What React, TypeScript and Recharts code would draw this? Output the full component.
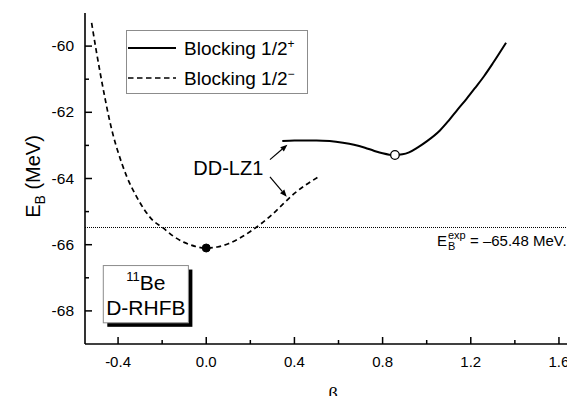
import React from 'react';
import {
  LineChart,
  Line,
  XAxis,
  YAxis,
  ReferenceLine,
  ReferenceDot,
  ReferenceArea,
  Legend,
} from 'recharts';

// Binding energy of 11Be versus quadrupole deformation beta (D-RHFB, DD-LZ1)

// Blocking 1/2- configuration
const betaMinus = [
  -0.52, -0.5, -0.48, -0.46, -0.44, -0.42, -0.4, -0.36, -0.32, -0.28, -0.24, -0.2, -0.15,
  -0.1, -0.05, 0.0, 0.05, 0.1, 0.15, 0.2, 0.25, 0.3, 0.35, 0.4, 0.45, 0.51,
];
const energyMinus = [
  -59.3, -60.1, -60.85, -61.55, -62.2, -62.75, -63.2, -63.95, -64.5, -64.95, -65.28, -65.47,
  -65.74, -65.93, -66.05, -66.1, -66.07, -65.97, -65.81, -65.6, -65.36, -65.08, -64.76,
  -64.45, -64.2, -63.95,
];

// Blocking 1/2+ configuration
const betaPlus = [
  0.345, 0.4, 0.45, 0.5, 0.56, 0.62, 0.67, 0.72, 0.76, 0.8, 0.83, 0.856, 0.89, 0.92, 0.96,
  1.0, 1.06, 1.1, 1.14, 1.18, 1.22, 1.26, 1.3, 1.36,
];
const energyPlus = [
  -62.87, -62.85, -62.85, -62.85, -62.87, -62.92, -62.98, -63.07, -63.16, -63.24, -63.28,
  -63.29, -63.27, -63.21, -63.06, -62.88, -62.55, -62.25, -61.92, -61.6, -61.26, -60.91,
  -60.52, -59.9,
];

const seriesBase = ['Blocking 1/2', 'Blocking 1/2'];
const seriesParity = ['+', '\u2212'];

// ground-state minima of each configuration
const minMinus = { beta: 0.0, energy: -66.1 };
const minPlus = { beta: 0.856, energy: -63.29 };

// experimental binding energy
const expEnergy = -65.48;

// axes
const xDomain: [number, number] = [-0.55, 1.7];
const yDomain: [number, number] = [-69, -59];
const xTicks = [-0.4, -0.2, 0.0, 0.2, 0.4, 0.6, 0.8, 1.0, 1.2, 1.4, 1.6];
const xTickLabels = ['-0.4', '', '0.0', '', '0.4', '', '0.8', '', '1.2', '', '1.6'];
const yTicks = [-68, -67, -66, -65, -64, -63, -62, -61, -60];
const yTickLabels = ['-68', '', '-66', '', '-64', '', '-62', '', '-60'];

// annotation anchors (data coordinates)
const modelName = 'DD-LZ1';
const modelLabelAt = { beta: 0.1, energy: -63.9 };
const arrowUp = [{ x: 0.289, y: -63.43 }, { x: 0.368, y: -62.98 }];
const arrowDown = [{ x: 0.289, y: -63.95 }, { x: 0.365, y: -64.55 }];
const nucleusBox = { x1: -0.467, x2: -0.081, y1: -68.36, y2: -66.63 };

const minusData = betaMinus.map((b, i) => ({ beta: b, energy: energyMinus[i] }));
const plusData = betaPlus.map((b, i) => ({ beta: b, energy: energyPlus[i] }));

const FONT = '"Liberation Sans", Arial, Helvetica, sans-serif';
const MAJOR = 7;
const MINOR = 4;

const findIdx = (arr: number[], v: number) => arr.findIndex((t) => Math.abs(t - v) < 1e-9);

const makeXTick = (side: 'bottom' | 'top') => (props: any) => {
  const { x, y, payload } = props;
  const idx = findIdx(xTicks, payload.value);
  const label = idx >= 0 ? xTickLabels[idx] : '';
  const len = label ? MAJOR : MINOR;
  const dir = side === 'bottom' ? -1 : 1;
  return (
    <g>
      <line x1={x} y1={y} x2={x} y2={y + dir * len} stroke="#000" strokeWidth={1.5} />
      {side === 'bottom' && label ? (
        <text x={x} y={y + 23} textAnchor="middle" fontSize={15} fontFamily={FONT} fill="#000">
          {label}
        </text>
      ) : null}
    </g>
  );
};

const makeYTick = (side: 'left' | 'right') => (props: any) => {
  const { x, y, payload } = props;
  const idx = findIdx(yTicks, payload.value);
  const label = idx >= 0 ? yTickLabels[idx] : '';
  const len = label ? MAJOR : MINOR;
  const dir = side === 'left' ? 1 : -1;
  return (
    <g>
      <line x1={x} y1={y} x2={x + dir * len} y2={y} stroke="#000" strokeWidth={1.5} />
      {side === 'left' && label ? (
        <text x={x - 11} y={y + 5} textAnchor="end" fontSize={15.5} fontFamily={FONT} fill="#000">
          {label}
        </text>
      ) : null}
    </g>
  );
};

const renderYLabel = (props: any) => {
  const vb = props.viewBox;
  const bx = vb.x + 40;
  const cy = vb.y + vb.height / 2 - 2;
  return (
    <text
      x={bx}
      y={cy}
      transform={`rotate(-90, ${bx}, ${cy})`}
      textAnchor="middle"
      fontSize={20}
      fontFamily={FONT}
      fill="#000"
    >
      E
      <tspan fontSize={14} dy={5}>
        B
      </tspan>
      <tspan dy={-5}> (MeV)</tspan>
    </text>
  );
};

const renderXLabel = (props: any) => {
  const vb = props.viewBox;
  return (
    <text
      x={vb.x + vb.width / 2}
      y={vb.y + 56}
      textAnchor="middle"
      fontSize={19}
      fontFamily='"Liberation Serif", "Times New Roman", serif'
      fill="#000"
    >
      β
    </text>
  );
};

const renderExpLabel = (props: any) => {
  const vb = props.viewBox;
  const right = vb.x + vb.width;
  const y = vb.y;
  const x0 = right - 144;
  return (
    <g fontFamily={FONT} fill="#000">
      <text x={x0} y={y + 19} fontSize={15}>
        E
      </text>
      <text x={x0 + 11} y={y + 11.5} fontSize={11}>
        exp
      </text>
      <text x={x0 + 11} y={y + 22.5} fontSize={11}>
        B
      </text>
      <text x={x0 + 33} y={y + 19} fontSize={15}>
        {`= \u2013${Math.abs(expEnergy).toFixed(2)} MeV.`}
      </text>
    </g>
  );
};

const Arrow = (props: any) => {
  const { x1, y1, x2, y2 } = props;
  const dx = x2 - x1;
  const dy = y2 - y1;
  const L = Math.sqrt(dx * dx + dy * dy) || 1;
  const ux = dx / L;
  const uy = dy / L;
  const head = 7;
  const half = 2.8;
  const bx = x2 - ux * head;
  const by = y2 - uy * head;
  const pts = `${x2},${y2} ${bx - uy * half},${by + ux * half} ${bx + uy * half},${by - ux * half}`;
  return (
    <g>
      <line x1={x1} y1={y1} x2={bx} y2={by} stroke="#000" strokeWidth={1.2} />
      <polygon points={pts} fill="#000" />
    </g>
  );
};

const ModelLabel = (props: any) => {
  const { cx, cy } = props;
  return (
    <text x={cx} y={cy} textAnchor="middle" fontSize={20} fontFamily={FONT} fill="#000">
      {modelName}
    </text>
  );
};

const NucleusBox = (props: any) => {
  const { x, y, width, height } = props;
  const cx = x + width / 2;
  return (
    <g fontFamily={FONT} fill="#000">
      <rect x={x + 4} y={y + 4} width={width} height={height} fill="#000" />
      <rect x={x} y={y} width={width} height={height} fill="#fff" stroke="#8c8c8c" strokeWidth={1} />
      <text x={cx} y={y + 24.5} textAnchor="middle" fontSize={21}>
        <tspan fontSize={13} dy={-9}>
          11
        </tspan>
        <tspan dy={9}>Be</tspan>
      </text>
      <text x={cx} y={y + 49.5} textAnchor="middle" fontSize={21}>
        D-RHFB
      </text>
    </g>
  );
};

const renderLegend = (props: any) => {
  const payload: any[] = props.payload || [];
  return (
    <div
      style={{
        width: 180,
        height: 60,
        border: '1px solid #8c8c8c',
        background: '#fff',
        fontFamily: FONT,
        fontSize: 19,
        color: '#000',
        paddingTop: 2,
        boxSizing: 'content-box',
      }}
    >
      {payload.map((entry: any, i: number) => {
        const name: string = String(entry.value);
        const dash = entry.payload && entry.payload.strokeDasharray;
        return (
          <div
            key={i}
            style={{ display: 'flex', alignItems: 'center', height: 30, whiteSpace: 'nowrap' }}
          >
            <svg width={49} height={6} style={{ marginLeft: 1, marginRight: 7 }}>
              <line
                x1={0}
                y1={3}
                x2={48}
                y2={3}
                stroke="#000"
                strokeWidth={dash ? 1.6 : 2}
                strokeDasharray={dash ? '5.5 3.5' : undefined}
              />
            </svg>
            <span>
              {name.slice(0, -1)}
              <sup style={{ fontSize: 12, verticalAlign: 7 }}>{name.slice(-1)}</sup>
            </span>
          </div>
        );
      })}
    </div>
  );
};

export default function App() {
  return (
    <div
      style={{
        margin: -8,
        width: 575,
        height: 404,
        overflow: 'hidden',
        background: '#fff',
        fontFamily: FONT,
      }}
    >
      <LineChart width={600} height={404} margin={{ top: 13, right: 19, bottom: 0, left: 0 }}>
        <XAxis
          dataKey="beta"
          type="number"
          domain={xDomain}
          ticks={xTicks}
          interval={0}
          height={60}
          tickSize={0}
          tickMargin={0}
          tick={makeXTick('bottom')}
          axisLine={{ stroke: '#000', strokeWidth: 1.6 }}
          tickLine={false}
          label={renderXLabel}
        />
        <XAxis
          xAxisId="top"
          orientation="top"
          type="number"
          domain={xDomain}
          ticks={xTicks}
          interval={0}
          height={0}
          tickSize={0}
          tickMargin={0}
          tick={makeXTick('top')}
          axisLine={{ stroke: '#000', strokeWidth: 1.6 }}
          tickLine={false}
        />
        <YAxis
          type="number"
          domain={yDomain}
          ticks={yTicks}
          interval={0}
          width={85}
          tickSize={0}
          tickMargin={0}
          tick={makeYTick('left')}
          axisLine={{ stroke: '#000', strokeWidth: 1.6 }}
          tickLine={false}
          label={renderYLabel}
        />
        <YAxis
          yAxisId="right"
          orientation="right"
          type="number"
          domain={yDomain}
          ticks={yTicks}
          interval={0}
          width={0}
          tickSize={0}
          tickMargin={0}
          tick={makeYTick('right')}
          axisLine={{ stroke: '#000', strokeWidth: 1.6 }}
          tickLine={false}
        />
        <ReferenceLine
          y={expEnergy}
          stroke="#000"
          strokeWidth={1}
          strokeDasharray="1 1"
          label={renderExpLabel}
        />
        <ReferenceArea
          x1={nucleusBox.x1}
          x2={nucleusBox.x2}
          y1={nucleusBox.y1}
          y2={nucleusBox.y2}
          shape={<NucleusBox />}
        />
        <Line
          data={plusData}
          dataKey="energy"
          name={`${seriesBase[0]}${seriesParity[0]}`}
          type="monotone"
          stroke="#000"
          strokeWidth={2}
          dot={false}
          activeDot={false}
          isAnimationActive={false}
        />
        <Line
          data={minusData}
          dataKey="energy"
          name={`${seriesBase[1]}${seriesParity[1]}`}
          type="monotone"
          stroke="#000"
          strokeWidth={1.7}
          strokeDasharray="5 3.5"
          dot={false}
          activeDot={false}
          isAnimationActive={false}
        />
        <ReferenceLine segment={arrowUp} shape={<Arrow />} ifOverflow="visible" />
        <ReferenceLine segment={arrowDown} shape={<Arrow />} ifOverflow="visible" />
        <ReferenceDot
          x={modelLabelAt.beta}
          y={modelLabelAt.energy}
          r={0}
          shape={<ModelLabel />}
          ifOverflow="visible"
        />
        <ReferenceDot
          x={minMinus.beta}
          y={minMinus.energy}
          r={4}
          fill="#000"
          stroke="#000"
          strokeWidth={1}
          ifOverflow="visible"
        />
        <ReferenceDot
          x={minPlus.beta}
          y={minPlus.energy}
          r={4.3}
          fill="#fff"
          stroke="#000"
          strokeWidth={1.3}
          ifOverflow="visible"
        />
        <Legend
          layout="horizontal"
          verticalAlign="middle"
          content={renderLegend}
          wrapperStyle={{ left: 126, top: 30, width: 'auto', height: 'auto' }}
        />
      </LineChart>
    </div>
  );
}
